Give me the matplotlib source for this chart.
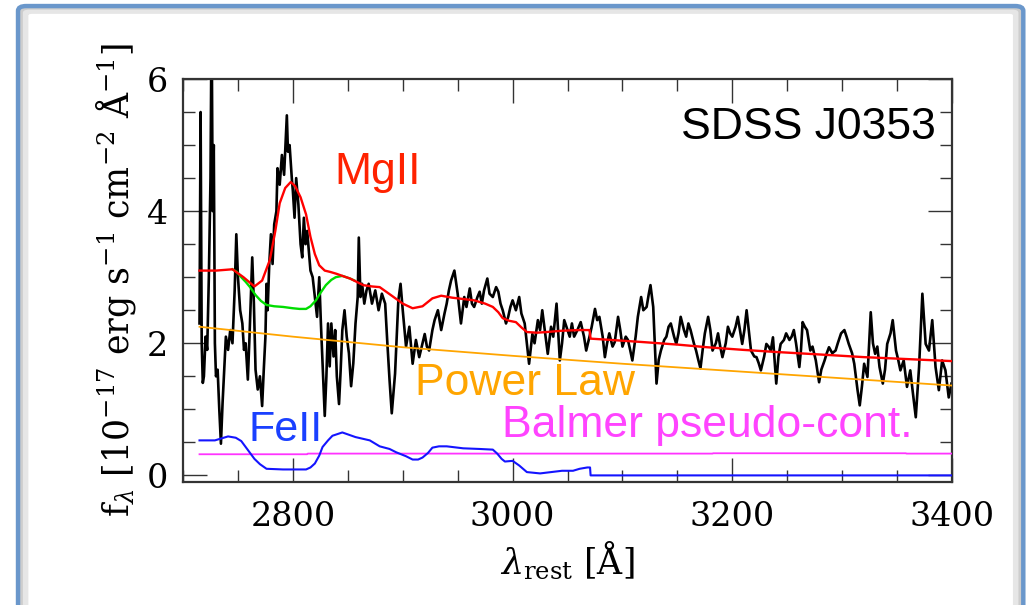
import matplotlib
matplotlib.use('Agg')
import matplotlib.pyplot as plt
from matplotlib.patches import FancyBboxPatch

# ---------------- data ----------------
obs_wave = [2715.0, 2716.0, 2717.0, 2718.0, 2719.0, 2720.5, 2722.0, 2723.5, 2725.0, 2726.0,
            2727.0, 2728.0, 2729.0, 2730.0, 2731.5, 2733.0, 2734.5, 2736.0, 2737.5, 2739.0,
            2741.0, 2743.0, 2745.0, 2747.0, 2748.5, 2750.0, 2752.0, 2754.0, 2755.5, 2757.0,
            2759.0, 2760.5, 2762.0, 2763.0, 2764.5, 2766.0, 2768.0, 2770.0, 2772.0, 2773.5,
            2775.0, 2776.0, 2777.0, 2778.5, 2780.0, 2781.5, 2783.0, 2785.0, 2786.0, 2788.0,
            2790.0, 2792.0, 2793.0, 2794.5, 2795.5, 2797.0, 2799.0, 2800.0, 2801.5, 2803.0,
            2805.0, 2807.0, 2808.5, 2810.0, 2811.5, 2813.0, 2814.5, 2816.0, 2818.0, 2820.0,
            2822.0, 2824.0, 2825.5, 2827.0, 2829.0, 2830.5, 2832.0, 2833.5, 2835.0, 2837.0,
            2838.5, 2840.0, 2842.0, 2843.5, 2845.0, 2847.0, 2849.0, 2851.0, 2853.0, 2855.0,
            2857.0, 2859.0, 2860.0, 2861.5, 2863.0, 2865.0, 2867.0, 2869.0, 2872.0, 2875.0,
            2878.0, 2881.0, 2884.0, 2886.0, 2888.0, 2890.0, 2893.0, 2896.0, 2898.0, 2900.0,
            2903.0, 2906.0, 2909.0, 2912.0, 2915.0, 2918.0, 2920.0, 2922.0, 2924.0, 2927.0,
            2929.0, 2932.0, 2935.0, 2938.0, 2940.0, 2942.0, 2944.0, 2947.0, 2950.0, 2953.0,
            2956.0, 2958.0, 2961.0, 2963.0, 2965.0, 2968.0, 2970.0, 2972.0, 2974.0, 2977.0,
            2979.0, 2982.0, 2985.0, 2987.0, 2989.0, 2991.0, 2994.0, 2996.0, 2998.0, 3000.0,
            3003.0, 3006.0, 3008.0, 3011.0, 3013.0, 3015.0, 3018.0, 3020.0, 3023.0, 3025.0,
            3027.0, 3030.0, 3032.0, 3035.0, 3037.0, 3040.0, 3043.0, 3045.0, 3047.0, 3050.0,
            3052.0, 3054.0, 3056.0, 3059.0, 3062.0, 3065.0, 3067.0, 3070.0, 3072.0, 3075.0,
            3077.0, 3079.0, 3082.0, 3084.0, 3086.0, 3088.0, 3091.0, 3093.0, 3096.0, 3098.0,
            3100.0, 3103.0, 3105.0, 3107.0, 3109.0, 3112.0, 3114.0, 3117.0, 3119.0, 3122.0,
            3124.0, 3125.5, 3128.0, 3131.0, 3133.0, 3135.0, 3138.0, 3140.0, 3142.0, 3144.0,
            3147.0, 3149.0, 3151.0, 3153.0, 3156.0, 3158.0, 3160.0, 3162.0, 3165.0, 3167.0,
            3169.0, 3171.0, 3173.0, 3175.0, 3178.0, 3180.0, 3182.0, 3185.0, 3187.0, 3189.0,
            3191.0, 3194.0, 3196.0, 3198.0, 3200.0, 3203.0, 3205.0, 3207.0, 3209.0, 3211.0,
            3213.0, 3215.0, 3217.0, 3220.0, 3222.0, 3224.0, 3226.0, 3229.0, 3231.0, 3233.0,
            3235.0, 3237.0, 3240.0, 3242.0, 3244.0, 3247.0, 3249.0, 3252.0, 3254.0, 3256.0,
            3258.0, 3261.0, 3262.5, 3264.0, 3266.0, 3268.0, 3271.0, 3273.0, 3276.0, 3279.0,
            3281.0, 3284.0, 3286.0, 3288.0, 3291.0, 3294.0, 3296.0, 3299.0, 3302.0, 3304.0,
            3306.0, 3309.0, 3311.0, 3314.0, 3316.0, 3318.0, 3320.0, 3323.0, 3326.0, 3328.0,
            3330.0, 3332.0, 3334.0, 3337.0, 3339.0, 3341.0, 3344.0, 3346.0, 3349.0, 3351.0,
            3353.0, 3356.0, 3359.0, 3362.0, 3364.0, 3367.0, 3370.0, 3373.0, 3376.0, 3379.0,
            3382.0, 3385.0, 3388.0, 3391.0, 3394.0, 3397.0, 3399.5]
obs_flux = [2.3, 5.5, 2.0, 1.4, 1.5, 2.1, 1.9, 3.0, 4.5, 7.0,
            4.0, 5.0, 2.0, 1.5, 1.6, 1.0, 0.48, 1.1, 1.6, 2.1,
            1.9, 2.2, 2.0, 2.8, 3.65, 3.0, 2.5, 2.3, 1.9, 2.0,
            1.45, 2.1, 2.8, 3.3, 2.6, 1.6, 1.3, 1.5, 1.05, 1.6,
            2.1, 2.9, 2.5, 3.2, 3.65, 3.2, 3.8, 4.0, 4.65, 4.4,
            4.85, 4.55, 4.9, 5.45, 4.9, 5.0, 4.5, 4.3, 3.9, 4.5,
            4.1, 3.5, 3.3, 3.9, 3.5, 3.7, 3.4, 3.1, 3.0, 2.7,
            2.4, 3.0, 2.3, 1.7, 0.9, 1.5, 2.3, 1.65, 2.3, 1.8,
            2.2, 1.5, 1.08, 1.6, 2.2, 2.5, 2.1, 1.85, 1.35, 1.7,
            2.3, 2.7, 3.6, 2.7, 2.9, 2.6, 2.8, 2.9, 2.6, 2.8,
            2.5, 2.75, 2.6, 2.0, 1.44, 0.94, 1.54, 2.65, 2.9, 2.5,
            1.95, 2.25, 1.69, 2.05, 1.79, 2.0, 2.14, 1.95, 1.89, 2.2,
            2.35, 2.5, 2.2, 2.45, 2.6, 2.8, 2.95, 3.1, 2.75, 2.3,
            2.7, 2.55, 2.83, 2.6, 2.55, 2.7, 2.78, 2.6, 2.8, 2.98,
            2.75, 2.7, 2.85, 2.78, 2.6, 2.5, 2.3, 2.4, 2.55, 2.65,
            2.5, 2.7, 2.45, 2.3, 2.0, 1.69, 2.14, 2.0, 2.35, 2.2,
            2.5, 2.1, 1.84, 2.25, 2.1, 2.6, 1.74, 2.0, 2.35, 2.2,
            2.1, 2.3, 2.1, 2.2, 2.32, 2.1, 1.89, 2.1, 2.25, 2.52,
            2.35, 2.4, 2.1, 1.79, 2.0, 2.15, 1.95, 2.02, 2.4, 2.2,
            1.95, 2.1, 2.05, 1.9, 1.74, 2.1, 2.4, 2.7, 2.5, 2.55,
            2.75, 2.88, 2.55, 1.39, 1.75, 1.89, 2.05, 2.1, 2.25, 2.3,
            2.1, 1.99, 2.15, 2.4, 2.2, 2.1, 2.3, 2.2, 2.0, 1.89,
            1.75, 1.62, 1.9, 2.15, 2.4, 2.2, 1.89, 2.0, 2.15, 1.95,
            1.79, 2.0, 2.25, 2.15, 2.1, 2.25, 2.4, 2.2, 1.99, 2.2,
            2.5, 2.2, 1.89, 1.8, 1.79, 1.7, 1.59, 1.8, 1.99, 1.95,
            1.89, 2.09, 1.39, 1.8, 1.99, 2.05, 2.15, 2.05, 2.1, 2.2,
            2.0, 1.64, 1.9, 2.32, 2.25, 2.2, 1.89, 1.95, 1.74, 1.41,
            1.6, 1.74, 1.85, 1.94, 1.85, 1.89, 2.0, 2.15, 2.2, 2.1,
            1.99, 1.85, 1.69, 1.29, 1.06, 1.35, 1.69, 1.49, 2.47, 2.0,
            1.84, 1.95, 1.64, 1.39, 1.6, 1.99, 2.15, 2.35, 1.89, 1.75,
            1.59, 1.74, 1.34, 1.59, 1.3, 0.88, 1.64, 2.75, 1.99, 1.89,
            2.35, 1.64, 1.29, 1.74, 1.59, 1.18, 1.39]

total_wave = [2715, 2730, 2745, 2755, 2765, 2772, 2779, 2784, 2788, 2793, 2798, 2802,
              2807, 2812, 2816, 2820, 2824, 2829, 2834, 2840, 2845, 2852, 2858, 2864,
              2872, 2879, 2890, 2900, 2909, 2918, 2927, 2935, 2945, 2955, 2965, 2975,
              2982, 2987, 2991, 2997, 3003, 3008, 3013, 3022, 3031, 3045, 3061, 3070,
              3071, 3090, 3117, 3150, 3177, 3210, 3238, 3280, 3320, 3360, 3400]
total_flux = [3.1, 3.1, 3.12, 3.0, 2.86, 2.95, 3.26, 3.7, 4.12, 4.35, 4.44, 4.38,
              4.21, 3.95, 3.61, 3.35, 3.18, 3.1, 3.08, 3.05, 3.02, 2.98, 2.93, 2.88,
              2.86, 2.85, 2.72, 2.6, 2.53, 2.56, 2.68, 2.72, 2.69, 2.67, 2.65, 2.6,
              2.55, 2.47, 2.38, 2.34, 2.32, 2.24, 2.17, 2.16, 2.17, 2.19, 2.2, 2.2,
              2.07, 2.05, 2.02, 1.98, 1.94, 1.9, 1.87, 1.83, 1.79, 1.76, 1.73]

cont_wave = [2745, 2749, 2753, 2757, 2761, 2766, 2771, 2776, 2783, 2791, 2800, 2806, 2812,
             2816, 2821, 2825, 2830, 2835, 2839, 2845, 2852, 2856]
cont_flux = [3.12, 3.08, 3.0, 2.93, 2.85, 2.73, 2.64, 2.58, 2.56, 2.55, 2.53, 2.52, 2.52,
             2.56, 2.65, 2.76, 2.88, 2.96, 3.0, 3.02, 2.98, 2.95]

pl_wave = [2715, 2800, 2900, 3000, 3100, 3200, 3300, 3400]
pl_flux = [2.25, 2.10, 1.94, 1.81, 1.69, 1.58, 1.47, 1.36]

balmer_wave = [2715, 2813, 2813.5, 3182, 3182.5, 3358, 3358.5, 3400]
balmer_flux = [0.32, 0.32, 0.33, 0.33, 0.335, 0.335, 0.33, 0.33]

feii_wave = [2715, 2729, 2735, 2741, 2748, 2753, 2757, 2761, 2765, 2770, 2776, 2791,
             2812, 2816, 2820, 2824, 2827, 2832, 2836, 2845, 2857, 2870, 2879, 2888,
             2894, 2903, 2909, 2914, 2918, 2923, 2927, 2933, 2940, 2955, 2970, 2982,
             2986, 2990, 2993, 3000, 3006, 3013, 3019, 3025, 3035, 3045, 3055, 3061,
             3068, 3070.5, 3071, 3100, 3200, 3300, 3400]
feii_flux = [0.53, 0.53, 0.56, 0.59, 0.57, 0.52, 0.43, 0.34, 0.25, 0.17, 0.10, 0.09,
             0.09, 0.12, 0.18, 0.3, 0.43, 0.53, 0.6, 0.65, 0.58, 0.53, 0.44, 0.4,
             0.35, 0.29, 0.24, 0.24, 0.27, 0.34, 0.42, 0.44, 0.44, 0.41, 0.4, 0.39,
             0.33, 0.25, 0.21, 0.22, 0.15, 0.05, 0.04, 0.03, 0.05, 0.07, 0.07, 0.1,
             0.12, 0.12, 0.0, 0.0, 0.0, 0.0, 0.0]

x_ticks = [2800, 3000, 3200, 3400]
y_ticks = [0, 2, 4, 6]

# ---------------- figure ----------------
plt.rcParams['mathtext.fontset'] = 'dejavuserif'
fig = plt.figure(figsize=(10.3, 6.05), dpi=100)
fig.patch.set_facecolor('white')

# decorative frame (blue rounded border with soft inner shadow)
for off, col, lw in [(0.006, '#e6e6e6', 6), (0.003, '#cdcdcd', 2.5)]:
    fig.patches.append(FancyBboxPatch((0.0175 + off, -0.05), 0.976 - 2 * off, 1.04 - off,
                                      boxstyle='round,pad=0,rounding_size=0.008',
                                      transform=fig.transFigure, facecolor='none',
                                      edgecolor=col, linewidth=lw, zorder=0))
fig.patches.append(FancyBboxPatch((0.0175, -0.05), 0.976, 1.04,
                                  boxstyle='round,pad=0,rounding_size=0.008',
                                  transform=fig.transFigure, facecolor='none',
                                  edgecolor='#6a97cb', linewidth=3.2, zorder=1))

ax = fig.add_axes([0.1777, 0.2033, 0.7466, 0.6661])
ax.plot(obs_wave, obs_flux, color='black', lw=1.9, zorder=2)
ax.plot(pl_wave, pl_flux, color='#ffa500', lw=1.3, zorder=3)
ax.plot(balmer_wave, balmer_flux, color='#ff33ff', lw=1.3, zorder=3)
ax.plot(feii_wave, feii_flux, color='#1414ff', lw=1.5, zorder=3)
ax.plot(cont_wave, cont_flux, color='#00dd00', lw=1.7, zorder=4)
ax.plot(total_wave, total_flux, color='#ff0000', lw=1.7, zorder=5)

ax.set_xlim(2700, 3400)
ax.set_ylim(-0.1, 6)
ax.set_xticks(x_ticks)
ax.set_yticks(y_ticks)
ax.set_xticks(range(2700, 3401, 50), minor=True)
ax.set_yticks([v * 0.5 for v in range(0, 13)], minor=True)
ax.tick_params(which='both', direction='in', top=True, right=True, colors='#333333',
               labelcolor='black', width=1.0)
ax.tick_params(which='major', length=17, labelsize=24)
ax.tick_params(axis='x', which='major', pad=14)
ax.tick_params(axis='y', which='major', pad=11)
ax.tick_params(which='minor', length=8.5)
for lab in ax.get_xticklabels() + ax.get_yticklabels():
    lab.set_fontfamily('DejaVu Serif')
for s in ax.spines.values():
    s.set_linewidth(1.6)
    s.set_color('#333333')

ax.set_xlabel(r'$\lambda_{\rm rest}$ [Å]', fontsize=25, family='DejaVu Serif', labelpad=5)
ax.set_ylabel(r'f$_\lambda$ [10$^{-17}$ erg s$^{-1}$ cm$^{-2}$ Å$^{-1}$]', fontsize=25,
              family='DejaVu Serif', labelpad=6)

sans = 'Liberation Sans'
ax.text(3385, 5.26, 'SDSS J0353', ha='right', va='center', fontsize=32, family=sans, color='black')
ax.text(2838, 4.58, 'MgII', ha='left', va='center', fontsize=32, family=sans, color='#ff2200')
ax.text(2911, 1.39, 'Power Law', ha='left', va='center', fontsize=32, family=sans, color='#ffa500')
ax.text(2990, 0.76, 'Balmer pseudo-cont.', ha='left', va='center', fontsize=32, family=sans,
        color='#ff44ff')
ax.text(2760, 0.68, 'FeII', ha='left', va='center', fontsize=31, family=sans, color='#1a40ff')

fig.savefig('out.png', dpi=100)
